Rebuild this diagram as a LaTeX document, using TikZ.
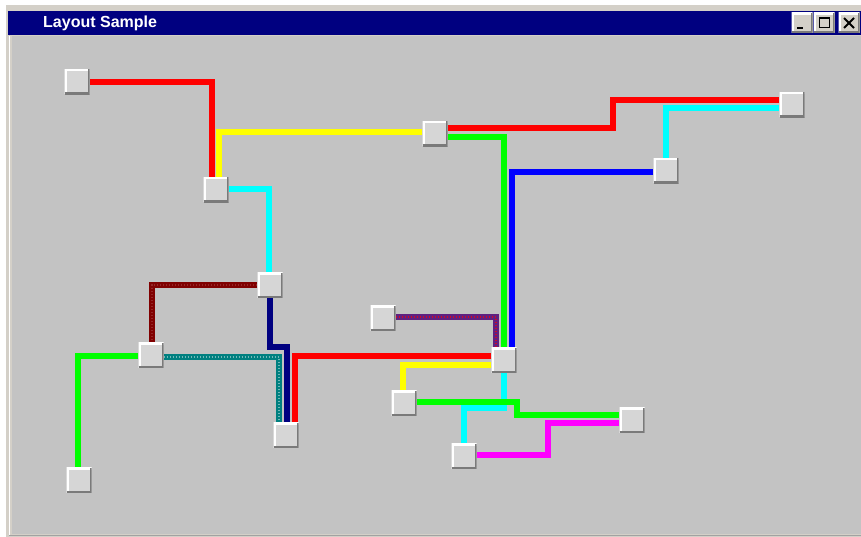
\documentclass[tikz,border=0pt]{standalone}
\usepackage{fontspec}
\setmainfont{Liberation Sans}
\usetikzlibrary{calc}
\pgfdeclarelayer{canvas}
\pgfdeclarelayer{wires}
\pgfsetlayers{canvas,wires,main}
\definecolor{winframe}{HTML}{D4D0C8}
\definecolor{titleblue}{HTML}{000080}
\definecolor{canvasgray}{HTML}{C3C3C3}
\definecolor{boxfill}{HTML}{D6D6D6}
\definecolor{boxshade}{HTML}{7A7A7A}
\definecolor{wred}{HTML}{FF0000}
\definecolor{wyellow}{HTML}{FFFF00}
\definecolor{wcyan}{HTML}{00FFFF}
\definecolor{wgreen}{HTML}{00FF00}
\definecolor{wblue}{HTML}{0000FF}
\definecolor{wmaroon}{HTML}{800000}
\definecolor{wnavy}{HTML}{000080}
\definecolor{wteal}{HTML}{008080}
\definecolor{wpurple}{HTML}{602080}
\definecolor{wmagenta}{HTML}{FF00FF}
\begin{document}
\begin{tikzpicture}[x=1pt,y=-1pt,
  bevel/.style={path picture={
     \draw[white,line width=4pt] (path picture bounding box.south west) -- (path picture bounding box.north west) -- (path picture bounding box.north east);
     \draw[boxshade,line width=4pt] (path picture bounding box.south west) -- (path picture bounding box.south east) -- (path picture bounding box.north east);}},
  nbox/.style={rectangle,minimum width=25pt,minimum height=25pt,inner sep=0pt,fill=boxfill,bevel},
  btn/.style={rectangle,minimum width=21pt,minimum height=20pt,inner sep=0pt,fill=winframe,bevel},
  conn/.style={line width=5.6pt,line join=miter,line cap=butt},
  dotover/.style={postaction={draw=#1,line width=1.3pt,dash pattern=on 1.3pt off 1.7pt}},
  titletext/.style={text=white,font=\bfseries\fontsize{16}{16}\selectfont,anchor=west,inner sep=0pt}
]
\useasboundingbox (0,0) rectangle (861,537);
\begin{pgfonlayer}{canvas}
  \fill[white] (0,0) rectangle (861,537);
  \fill[winframe] (6,5) rectangle (861,537);
  \fill[titleblue] (8,11) rectangle (861,35);
  \fill[canvasgray] (12,36) rectangle (861,534);
  \draw[white,line width=1pt] (9.5,36) -- (9.5,535);
  \draw[boxshade!70,line width=1pt] (9,535) -- (861,535);
\end{pgfonlayer}

% title bar
\node[titletext] (title) at (43,23) {Layout Sample};
\node[btn] (bmin) at (802,23) {};
\node[btn] (bmax) at (824,23) {};
\node[btn] (bclose) at (849,23) {};
\fill[black] ([xshift=-5pt,yshift=-4pt]bmin.center) rectangle ([xshift=1pt,yshift=-6pt]bmin.center);
\draw[black,line width=1pt] ([xshift=-5pt,yshift=5pt]bmax.center) rectangle ([xshift=5pt,yshift=-5pt]bmax.center);
\draw[black,line width=2pt] ([xshift=-5pt,yshift=4.5pt]bmax.center) -- ([xshift=5pt,yshift=4.5pt]bmax.center);
\draw[black,line width=1.8pt] ([xshift=-5pt,yshift=5pt]bclose.center) -- ([xshift=5pt,yshift=-5pt]bclose.center);
\draw[black,line width=1.8pt] ([xshift=-5pt,yshift=-5pt]bclose.center) -- ([xshift=5pt,yshift=5pt]bclose.center);

% nodes
\node[nbox] (n1) at (77,82) {};
\node[nbox] (n2) at (216,190) {};
\node[nbox] (n3) at (435,134) {};
\node[nbox] (n4) at (792,105) {};
\node[nbox] (n5) at (666,171) {};
\node[nbox] (n6) at (270,285) {};
\node[nbox] (n7) at (151,355) {};
\node[nbox] (n8) at (286,435) {};
\node[nbox] (n9) at (383,318) {};
\node[nbox] (n10) at (504,360) {};
\node[nbox] (n11) at (404,403) {};
\node[nbox] (n12) at (632,420) {};
\node[nbox] (n13) at (464,456) {};
\node[nbox] (n14) at (79,480) {};

\begin{pgfonlayer}{wires}
  \draw[conn,wred] (n1.east) -| ([xshift=-4pt]n2.north);
  \draw[conn,wyellow] ([yshift=2pt]n3.west) -| ([xshift=3pt]n2.north);
  \draw[conn,wcyan] ([yshift=1pt]n2.east) -| ([xshift=-1pt]n6.north);
  \draw[conn,wred] ([yshift=6pt]n3.east) -- (613,128) |- ([yshift=5pt]n4.west);
  \draw[conn,wgreen] ([yshift=-3pt]n3.east) -| (n10.north);
  \draw[conn,wblue] ([yshift=-1pt]n5.west) -| ([xshift=8pt]n10.north);
  \draw[conn,wcyan] ([yshift=-3pt]n4.west) -| (n5.north);
  \draw[conn,wmaroon,dotover=wmaroon!85!white] (n6.west) -| ([xshift=1pt]n7.north);
  \draw[conn,wnavy] (n6.south) -- (270,347) -| ([xshift=1pt]n8.north);
  \draw[conn,wteal,dotover=wteal!55!white] ([yshift=-2pt]n7.east) -| ([xshift=-7pt]n8.north);
  \draw[conn,wred] ([yshift=4pt]n10.west) -| ([xshift=9pt]n8.north);
  \draw[conn,wpurple,dotover=wred!70!wpurple] ([yshift=1pt]n9.east) -| ([xshift=-8pt]n10.north);
  \draw[conn,wyellow] ([yshift=-5pt]n10.west) -| ([xshift=-1pt]n11.north);
  \draw[conn,wcyan] (n10.south) -- (504,408) -| (n13.north);
  \draw[conn,wgreen] ([yshift=1pt]n11.east) -- (517,402) |- ([yshift=5pt]n12.west);
  \draw[conn,wmagenta] ([yshift=-3pt]n12.west) -- (548,423) |- ([yshift=1pt]n13.east);
  \draw[conn,wgreen] ([yshift=-1pt]n7.west) -| ([xshift=-1pt]n14.north);
\end{pgfonlayer}
\end{tikzpicture}
\end{document}
